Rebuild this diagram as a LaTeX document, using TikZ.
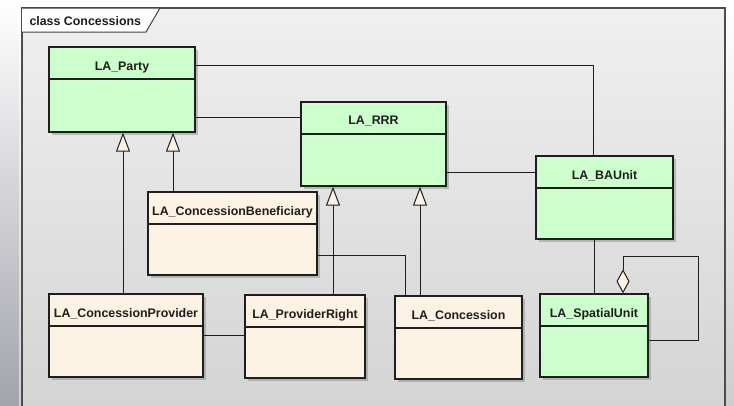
\documentclass[tikz,border=0pt]{standalone}
\usepackage{fontspec}
\setsansfont{Liberation Sans}
\usetikzlibrary{calc,shadows,arrows.meta}
\definecolor{umlgreen}{HTML}{CCFFCC}
\definecolor{umlcream}{HTML}{FCF2E3}
\definecolor{umlline}{HTML}{1E1E1E}

\begin{document}
\begin{tikzpicture}[x=1pt,y=-1pt,line width=1pt,
  cls/.style={draw=umlline,line width=1.3pt,inner sep=0pt,
    drop shadow={shadow xshift=3pt,shadow yshift=-3pt,fill=black!45,opacity=.5}},
  clsg/.style={cls,fill=umlgreen},
  clsc/.style={cls,fill=umlcream},
  ttl/.style={anchor=base,inner sep=0pt,text=umlline,
    font=\sffamily\bfseries\fontsize{12.4}{14}\selectfont},
  assoc/.style={draw=umlline},
  gen/.style={draw=umlline,-{Triangle[length=19pt,width=14pt,fill=umlcream]}},
  agg/.style={draw=umlline,-{Diamond[length=24pt,width=13pt,fill=umlcream]}}]
  \useasboundingbox (0,0) rectangle (734,405);
  % background and frame
  \shade[top color=white,bottom color=black!5!umlline!22] (0,0) rectangle (734,405);
  \shade[top color=white,bottom color=blue!10!black!36] (0,0) rectangle (19,405);
  \shade[top color=white,bottom color=black!18] (19,0) rectangle (22,405);
  \shade[top color=black!6,bottom color=blue!3!black!17] (22,8) rectangle (725,410);
  \draw[draw=black!70,line width=1.5pt] (22,410) -- (22,8) -- (725,8) -- (725,410);
  \draw[draw=black!75,fill=white] (22,8) -- (160,8) -- (146,32) -- (22,32);
  \node[ttl,anchor=base west] (frame-t) at (29,25) {class Concessions};

  % classes
  \node[clsg,minimum width=146pt,minimum height=85pt] (party) at (122,89.5) {};
  \node[clsg,minimum width=145pt,minimum height=84pt] (rrr) at (373.5,144) {};
  \node[clsg,minimum width=137pt,minimum height=83pt] (baunit) at (604.5,197.5) {};
  \node[clsc,minimum width=169pt,minimum height=83pt] (benef) at (232.5,233.5) {};
  \node[clsc,minimum width=154pt,minimum height=83pt] (prov) at (126,335.5) {};
  \node[clsc,minimum width=120pt,minimum height=83pt] (provright) at (305,336.5) {};
  \node[clsc,minimum width=127pt,minimum height=83pt] (conc) at (458.5,337.5) {};
  \node[clsg,minimum width=108pt,minimum height=83pt] (spatial) at (594,335.5) {};

  \foreach \c in {party,rrr,baunit,benef,prov,provright,conc,spatial}
    \draw[draw=umlline,line width=1.3pt] ($(\c.north west)+(0,32.5)$) -- ($(\c.north east)+(0,32.5)$);

  \node[ttl] (party-t) at ($(party.north)+(0,24.3)$) {LA\_Party};
  \node[ttl] (rrr-t) at ($(rrr.north)+(0,23.5)$) {LA\_RRR};
  \node[ttl] (baunit-t) at ($(baunit.north)+(0,24.3)$) {LA\_BAUnit};
  \node[ttl] (benef-t) at ($(benef.north)+(0,24.3)$) {LA\_ConcessionBeneficiary};
  \node[ttl] (prov-t) at ($(prov.north)+(0,24.3)$) {LA\_ConcessionProvider};
  \node[ttl] (provright-t) at ($(provright.north)+(0,24.3)$) {LA\_ProviderRight};
  \node[ttl] (conc-t) at ($(conc.north)+(0,24.3)$) {LA\_Concession};
  \node[ttl] (spatial-t) at ($(spatial.north)+(0,24.3)$) {LA\_SpatialUnit};

  % associations
  \draw[assoc] ([yshift=24.5pt]party.east) -| ([xshift=-11.5pt]baunit.north);
  \coordinate (pr) at ([yshift=-27.5pt]party.east);
  \draw[assoc] (pr) -- (pr -| rrr.west);
  \coordinate (rb) at ([yshift=-28pt]rrr.east);
  \draw[assoc] (rb) -- (rb -| baunit.west);
  \draw[assoc] ([yshift=-21.5pt]benef.east) -| ([xshift=11pt]conc.north west);
  \draw[assoc] (prov.east) -- (prov.east -| provright.west);
  \draw[assoc] (spatial.north |- baunit.south) -- (spatial.north);

  % generalizations
  \draw[gen] ([xshift=-3pt]prov.north) -- ([xshift=-3pt]prov.north |- party.south);
  \draw[gen] ([xshift=-59.5pt]benef.north) -- ([xshift=-59.5pt]benef.north |- party.south);
  \draw[gen] ([xshift=28pt]provright.north) -- ([xshift=28pt]provright.north |- rrr.south);
  \draw[gen] ([xshift=-38.5pt]conc.north) -- ([xshift=-38.5pt]conc.north |- rrr.south);

  % aggregation
  \draw[agg] ([yshift=-4.5pt]spatial.east) -- ++(50,0) |- ([xshift=29pt,yshift=37pt]spatial.north) -- ([xshift=29pt]spatial.north);
\end{tikzpicture}
\end{document}
